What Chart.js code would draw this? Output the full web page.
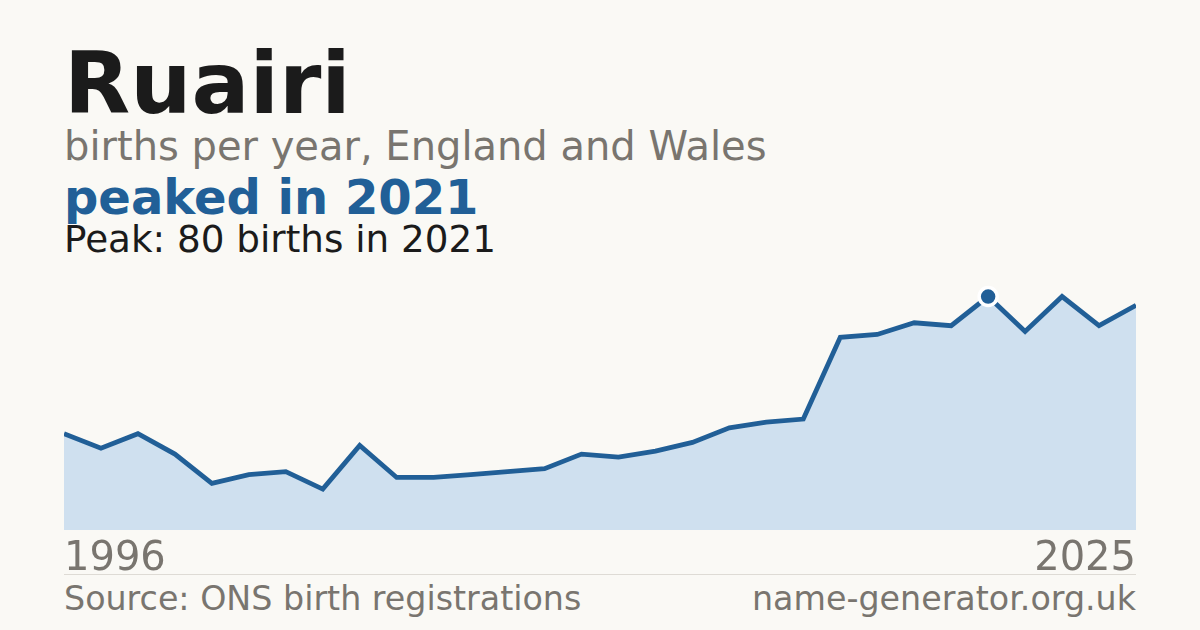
<!DOCTYPE html>
<html>
<head>
<meta charset="utf-8">
<script src="https://cdn.jsdelivr.net/npm/chart.js@4.4.1/dist/chart.umd.min.js"></script>
<style>
  html, body { margin: 0; padding: 0; }
  body {
    width: 1200px; height: 630px; overflow: hidden; position: relative;
    background: #faf9f5; font-family: "DejaVu Sans", sans-serif;
  }
  .t { position: absolute; left: 64px; line-height: 1; white-space: nowrap; }
  #title { top: 40px; font-size: 86px; font-weight: bold; color: #1b1b1b; }
  #sub { top: 126px; font-size: 40px; color: #79756f; }
  #peaked { top: 173px; font-size: 48px; font-weight: bold; color: #215f97; }
  #peak { top: 221px; font-size: 37.3px; color: #1b1b1b; }
  #rule { position: absolute; left: 64px; width: 1072px; top: 574px; height: 1px; background: #dedbd5; }
  .foot { top: 582px; font-size: 33.3px; color: #79756f; }
  #site { left: auto; right: 64px; }
  #wrap { position: absolute; left: 64px; top: 279px; width: 1072px; height: 296px; }
</style>
</head>
<body>
<div class="t" id="title">Ruairi</div>
<div class="t" id="sub">births per year, England and Wales</div>
<div class="t" id="peaked">peaked in 2021</div>
<div class="t" id="peak">Peak: 80 births in 2021</div>
<div id="wrap"><canvas id="chart"></canvas></div>
<div id="rule"></div>
<div class="t foot" id="source">Source: ONS birth registrations</div>
<div class="t foot" id="site">name-generator.org.uk</div>
<script>
// 数据
const years = [];
for (let y = 1996; y <= 2025; y++) years.push(String(y));
const births = [33, 28, 33, 26, 16, 19, 20, 14, 29, 18,
                18, 19, 20, 21, 26, 25, 27, 30, 35, 37,
                38, 66, 67, 71, 70, 80, 68, 80, 70, 77];
const peakYear = '2021';

const blue = '#215f97';
const peakIndex = years.indexOf(peakYear);

const ctx = document.getElementById('chart');
new Chart(ctx, {
    type: 'line',
    data: {
        labels: years,
        datasets: [{
            data: births,
            borderColor: blue,
            borderWidth: 4.8,
            backgroundColor: '#cfe0ef',
            fill: 'origin',
            tension: 0,
            pointRadius: births.map((v, i) => i === peakIndex ? 9 : 0),
            pointHoverRadius: 0,
            pointBackgroundColor: blue,
            pointBorderColor: '#ffffff',
            pointBorderWidth: 3.5,
            clip: false
        }]
    },
    options: {
        responsive: true,
        maintainAspectRatio: false,
        animation: false,
        layout: { padding: 0, autoPadding: false },
        plugins: { legend: { display: false }, tooltip: { enabled: false } },
        scales: {
            x: {
                offset: false,
                grid: { display: false, drawTicks: false },
                border: { display: false },
                afterFit: function(scale) {
                    scale.height = 45;
                    scale.paddingLeft = 0;
                    scale.paddingRight = 0;
                },
                ticks: {
                    autoSkip: false,
                    maxRotation: 0,
                    align: 'inner',
                    padding: 6,
                    color: '#79756f',
                    font: { family: 'DejaVu Sans', size: 40 },
                    callback: function(val, i) {
                        return (i === 0 || i === years.length - 1) ? years[i] : '';
                    }
                }
            },
            y: {
                display: false,
                min: 0,
                max: 86
            }
        }
    }
});
</script>
</body>
</html>
